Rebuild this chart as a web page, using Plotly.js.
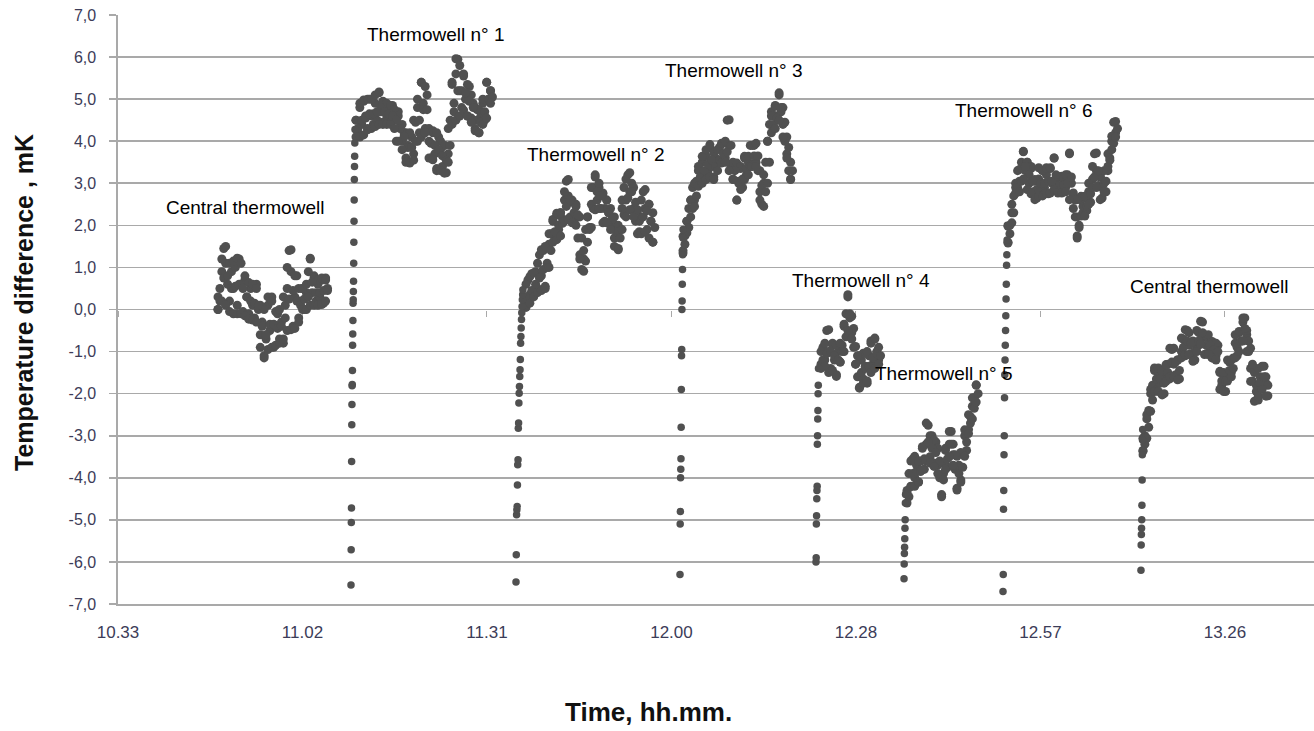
<!DOCTYPE html>
<html>
<head>
<meta charset="utf-8">
<script src="https://cdn.plot.ly/plotly-3.0.1.min.js"></script>
<style>html,body{margin:0;padding:0;background:#fff;}#chart{width:1314px;height:731px;}</style>
</head>
<body>
<div id="chart"></div>
<script>
// ---- axis ticks ----
const xTickMinutes = [0, 28.8, 57.6, 86.4, 115.2, 144, 172.8]; // minutes after 10:33
const xTickLabels = ['10.33', '11.02', '11.31', '12.00', '12.28', '12.57', '13.26'];
const yTickValues = [-7, -6, -5, -4, -3, -2, -1, 0, 1, 2, 3, 4, 5, 6, 7];
const yTickLabels = ['-7,0', '-6,0', '-5,0', '-4,0', '-3,0', '-2,0', '-1,0', '0,0', '1,0', '2,0', '3,0', '4,0', '5,0', '6,0', '7,0'];

// ---- sampling (minutes after 10:33) ----
const cloudStep = 0.3;   // readings along each plateau
const edgeStep = 0.6;    // readings of upper / middle / lower part of each plateau
const midOffset = 0.3;

// ---- Central thermowell (first) ----
const central1Start = 15.61;
const central1Values = [0.0, 0.5, 0.9, 1.45, 1.1, 0.6, 0.2, 0.9, 0.5, 1.0, 0.1, 1.2, 0.6, -0.05, 0.7, 0.3, -0.1, 0.5, 0.1, -0.2,
  0.6, 0.0, -0.6, -0.3, -1.1, -0.7, 0.1, -0.5, 0.3, -0.9, -0.4, -0.1, -0.7, -0.3, -0.8, 0.1, 0.5, 1.4, 0.9, -0.4,
  0.3, 0.8, -0.2, 0.2, 0.5, 0.0, 0.4, 0.9, 1.2, 0.4, 0.8, 0.2, 0.6, 0.3, 0.7, 0.15, 0.75, 0.5];
const central1Upper = [0.3, 1.2, 1.5, 1.1, 1.15, 1.22, 1.1, 0.8, 0.64, 0.6, 0.5, 0.1, 0.0, 0.3, 0.2, -0.05, 0.0, 0.3, 1.0, 1.42,
  0.8, 0.5, 0.5, 0.6, 1.22, 0.75, 0.7, 0.75, 0.7];
const central1Middle = [0.2, 0.75, 0.8, 0.5, 0.55, 0.6, 0.5, 0.3, 0.2, 0.15, 0.1, -0.4, -0.6, -0.35, -0.35, -0.45, -0.4, -0.2, 0.25, 0.45,
  0.2, 0.1, 0.25, 0.3, 0.65, 0.4, 0.4, 0.45, 0.45];
const central1Lower = [0.0, 0.2, 0.1, -0.05, -0.1, -0.1, -0.1, -0.15, -0.23, -0.25, -0.3, -0.9, -1.15, -0.95, -0.9, -0.85, -0.8, -0.7, -0.5, -0.48,
  -0.45, -0.3, 0.0, 0.0, 0.1, 0.1, 0.1, 0.12, 0.2];

// ---- Thermowell n° 1 ----
const tw1DropStart = 36.37, tw1DropStep = 0.025;
const tw1DropValues = [-6.55, -5.71, -5.06, -4.72, -3.61, -2.74, -2.26, -1.81, -1.78, -1.45, -0.85, -0.58, -0.26, 0.15, 0.23, 0.43, 0.67, 1.1, 1.6, 2.1, 2.6, 3.09, 3.4, 3.64, 3.96, 4.28];
const tw1Start = 37.15;
const tw1Values = [4.5, 4.2, 4.8, 4.4, 4.95, 4.6, 4.3, 5.0, 4.6, 4.4, 4.9, 4.5, 5.15, 4.7, 4.45, 4.9, 4.6, 4.8, 4.45, 4.85,
  4.6, 4.0, 4.7, 4.35, 4.0, 4.2, 3.6, 3.9, 3.5, 4.1, 3.7, 4.45, 4.8, 4.2, 5.4, 4.9, 4.3, 5.1, 4.0, 3.6,
  4.2, 3.7, 3.3, 4.1, 3.8, 3.4, 3.9, 3.25, 3.7, 4.5, 5.35, 4.7, 5.6, 5.95, 5.2, 4.8, 5.55, 5.0, 4.6, 5.3,
  4.55, 4.9, 4.3, 4.75, 4.2, 4.6, 4.9, 4.5, 5.4, 5.0, 5.2];
const tw1Upper = [4.5, 4.9, 4.98, 5.0, 5.0, 5.1, 5.17, 4.95, 4.9, 4.85, 4.75, 4.6, 4.4, 4.2, 4.2, 4.5, 5.0, 5.4, 5.3, 4.3,
  4.25, 4.2, 4.0, 3.9, 4.3, 5.4, 5.96, 5.8, 5.6, 5.35, 5.1, 4.8, 4.75, 5.0, 5.4, 5.2];
const tw1Middle = [4.3, 4.5, 4.55, 4.65, 4.65, 4.7, 4.8, 4.7, 4.65, 4.6, 4.5, 4.3, 4.1, 3.85, 3.85, 4.0, 4.5, 4.75, 4.75, 3.95,
  3.9, 3.8, 3.65, 3.55, 3.9, 4.9, 5.2, 5.2, 5.15, 4.95, 4.8, 4.5, 4.45, 4.7, 5.0, 5.05];
const tw1Lower = [4.1, 4.1, 4.15, 4.27, 4.3, 4.35, 4.4, 4.4, 4.4, 4.4, 4.3, 4.0, 3.8, 3.5, 3.48, 3.55, 4.0, 4.1, 4.2, 3.6,
  3.56, 3.35, 3.3, 3.24, 3.5, 4.4, 4.5, 4.6, 4.74, 4.6, 4.45, 4.25, 4.2, 4.4, 4.55, 4.9];

// ---- Thermowell n° 2 ----
const tw2DropStart = 62.13, tw2DropStep = 0.045;
const tw2DropValues = [-6.48, -5.83, -4.88, -4.76, -4.68, -4.17, -3.69, -3.57, -2.82, -2.70, -2.22, -1.99, -1.83, -1.59, -1.43, -1.19, -0.80, -0.64, -0.44, -0.24, -0.08, 0.07, 0.23, 0.35, 0.47];
const tw2Start = 63.69;
const tw2Values = [0.2, 0.7, 0.35, 0.85, 0.4, 0.9, 0.5, 1.3, 0.8, 1.4, 0.55, 1.1, 1.55, 1.8, 2.1, 1.7, 2.25, 1.9, 2.3, 2.15,
  2.6, 3.05, 2.7, 2.2, 2.55, 2.1, 2.45, 1.7, 1.3, 0.95, 1.2, 1.9, 2.2, 1.95, 2.5, 2.9, 3.15, 2.6, 2.9, 2.4,
  2.75, 2.1, 2.6, 2.3, 2.0, 2.2, 1.7, 2.0, 1.45, 1.9, 2.4, 2.9, 2.6, 3.2, 2.8, 3.0, 2.4, 2.1, 2.35, 1.85,
  2.2, 2.8, 2.4, 1.9, 2.5, 2.1, 1.6];
const tw2Upper = [0.6, 0.78, 0.87, 1.1, 1.42, 1.5, 1.8, 2.14, 2.29, 2.3, 2.8, 3.09, 2.6, 2.5, 2.2, 1.4, 2.2, 2.9, 3.2, 3.0,
  2.77, 2.6, 2.4, 2.2, 2.0, 2.6, 3.1, 3.25, 2.9, 2.37, 2.6, 2.85, 2.5, 2.3];
const tw2Middle = [0.3, 0.45, 0.6, 0.75, 0.95, 1.0, 1.4, 1.85, 2.0, 2.05, 2.45, 2.6, 2.3, 2.25, 1.7, 1.15, 1.9, 2.4, 2.8, 2.7,
  2.4, 2.3, 2.15, 1.85, 1.7, 2.25, 2.65, 2.8, 2.55, 2.1, 2.2, 2.35, 2.1, 1.95];
const tw2Lower = [0.05, 0.15, 0.3, 0.4, 0.45, 0.5, 1.0, 1.6, 1.66, 1.75, 2.1, 2.15, 2.06, 2.0, 1.2, 0.91, 1.6, 1.95, 2.37, 2.4,
  2.06, 2.06, 1.9, 1.5, 1.42, 1.9, 2.2, 2.37, 2.2, 1.8, 1.8, 1.85, 1.7, 1.6];

// ---- Thermowell n° 3 ----
const tw3DropStart = 87.73, tw3DropStep = 0.03;
const tw3DropValues = [-6.3, -5.1, -4.8, -4.0, -3.8, -3.55, -2.8, -1.9, -1.1, -0.95, 0.0, 0.2, 0.6, 0.95, 1.3, 1.7, 1.9];
const tw3Start = 88.20;
const tw3Values = [1.4, 1.75, 2.1, 2.4, 2.6, 2.9, 2.6, 3.05, 3.3, 3.0, 3.5, 3.2, 3.65, 3.3, 3.85, 3.4, 3.15, 3.6, 3.5, 3.85,
  3.55, 3.95, 3.6, 4.5, 3.9, 3.4, 3.1, 3.45, 2.6, 3.0, 3.35, 2.9, 3.6, 3.2, 3.5, 3.9, 3.45, 3.9, 3.5, 3.3,
  2.8, 2.5, 3.0, 3.5, 4.0, 4.4, 4.7, 4.3, 4.85, 4.6, 5.1, 4.7, 4.4, 4.0, 3.7, 3.3, 3.1];
const tw3Upper = [1.74, 2.1, 2.6, 3.0, 3.4, 3.64, 3.8, 3.92, 3.72, 3.8, 3.95, 4.0, 4.51, 3.5, 3.48, 3.4, 3.64, 3.64, 3.9, 3.95,
  3.3, 3.2, 4.0, 4.6, 4.83, 5.15, 4.8, 4.1, 3.5];
const tw3Middle = [1.55, 1.95, 2.4, 2.7, 3.15, 3.3, 3.45, 3.55, 3.4, 3.55, 3.7, 3.75, 3.9, 3.3, 3.05, 3.1, 3.35, 3.4, 3.65, 3.65,
  2.95, 2.8, 3.5, 4.4, 4.55, 4.8, 4.45, 3.85, 3.3];
const tw3Lower = [1.34, 1.82, 2.2, 2.45, 2.93, 3.0, 3.09, 3.15, 3.09, 3.3, 3.48, 3.5, 3.3, 3.09, 2.6, 2.85, 3.09, 3.2, 3.4, 3.4,
  2.6, 2.45, 3.0, 4.2, 4.3, 4.5, 4.1, 3.6, 3.09];

// ---- Thermowell n° 4 ----
const tw4DropStart = 108.96, tw4DropStep = 0.03;
const tw4DropValues = [-6.0, -5.9, -5.1, -4.9, -4.5, -4.3, -4.2, -3.2, -3.0, -2.6, -2.4, -2.0, -1.8, -1.4];
const tw4Start = 109.74;
const tw4Values = [-1.3, -0.9, -1.2, -0.5, -1.0, -1.4, -0.85, -1.2, -1.55, -1.0, -1.25, -0.85, -0.4, -0.1, 0.3, -0.2, -0.55, -0.9, -1.3, -1.6,
  -1.85, -1.2, -1.65, -1.35, -1.75, -1.1, -0.75, -1.3, -0.7, -1.0, -1.2];
const tw4Upper = [-1.0, -0.8, -0.48, -0.8, -0.85, -0.8, -0.35, 0.35, -0.16, -0.88, -1.1, -1.04, -1.0, -0.8, -0.68, -0.9];
const tw4Middle = [-1.2, -1.05, -1.0, -1.1, -1.2, -1.0, -0.65, -0.1, -0.45, -1.1, -1.5, -1.4, -1.35, -1.15, -1.05, -1.1];
const tw4Lower = [-1.4, -1.35, -1.5, -1.45, -1.59, -1.25, -1.0, -0.5, -0.7, -1.3, -1.87, -1.75, -1.7, -1.5, -1.4, -1.3];

// ---- Thermowell n° 5 ----
const tw5DropStart = 122.70, tw5DropStep = 0.03;
const tw5DropValues = [-6.4, -6.05, -5.8, -5.65, -5.45, -5.2, -5.0, -4.6, -4.4];
const tw5Start = 123.17;
const tw5Values = [-4.35, -3.9, -4.2, -3.55, -4.0, -3.7, -4.1, -3.6, -3.3, -3.8, -3.2, -2.75, -3.5, -3.0, -3.65, -3.15, -3.7, -4.0, -4.4, -3.9,
  -3.35, -3.75, -3.2, -2.9, -3.45, -3.8, -4.25, -3.7, -4.05, -3.45, -3.0, -3.35, -2.85, -2.55, -2.3, -2.1, -1.8];
const tw5Upper = [-4.3, -3.6, -3.49, -3.6, -3.26, -2.7, -3.0, -3.1, -3.3, -3.65, -3.3, -2.9, -3.2, -3.49, -3.4, -2.86, -2.5, -2.1, -1.79];
const tw5Middle = [-4.45, -3.9, -3.85, -3.85, -3.55, -3.15, -3.3, -3.4, -3.6, -4.05, -3.55, -3.2, -3.45, -3.9, -3.75, -3.15, -2.7, -2.35, -2.0];
const tw5Lower = [-4.6, -4.21, -4.2, -4.1, -3.81, -3.6, -3.65, -3.73, -3.9, -4.45, -3.8, -3.5, -3.7, -4.29, -4.1, -3.49, -2.95, -2.6, -2.2];

// ---- Thermowell n° 6 ----
const tw6DropStart = 138.15, tw6DropStep = 0.04;
const tw6DropValues = [-6.7, -6.3, -4.75, -4.3, -3.45, -3.0, -2.1, -1.55, -1.2, -0.85, -0.5, -0.15, 0.25, 0.6, 1.05, 1.3, 1.65, 2.0];
const tw6Start = 138.93;
const tw6Values = [1.6, 2.0, 2.3, 2.7, 2.9, 3.3, 3.05, 3.5, 3.75, 3.3, 3.5, 3.0, 3.35, 2.8, 3.05, 2.65, 3.1, 2.8, 3.3, 2.9,
  3.2, 2.75, 3.35, 3.0, 3.6, 3.1, 2.85, 3.15, 2.8, 3.1, 2.9, 3.2, 3.7, 3.0, 2.7, 2.2, 1.75, 2.0, 2.6, 2.3,
  2.65, 2.35, 2.8, 2.55, 3.1, 3.7, 3.3, 2.95, 3.15, 2.65, 3.0, 2.8, 3.3, 3.6, 4.0, 4.45, 4.2];
const tw6Upper = [1.98, 2.5, 3.0, 3.33, 3.76, 3.5, 3.4, 3.09, 3.37, 3.3, 3.37, 3.37, 3.6, 3.17, 3.17, 3.2, 3.72, 2.77, 2.2, 2.69,
  2.69, 3.0, 3.4, 3.72, 3.17, 3.3, 3.7, 4.12, 4.47];
const tw6Middle = [1.8, 2.3, 2.9, 3.05, 3.4, 3.2, 3.05, 2.85, 3.0, 3.0, 3.05, 3.05, 3.2, 2.95, 2.95, 3.0, 3.15, 2.6, 1.95, 2.45,
  2.45, 2.75, 3.15, 3.3, 2.9, 3.05, 3.55, 3.95, 4.3];
const tw6Lower = [1.58, 2.06, 2.77, 2.8, 3.1, 2.85, 2.75, 2.61, 2.69, 2.7, 2.77, 2.77, 2.85, 2.77, 2.77, 2.8, 2.61, 2.4, 1.7, 2.22,
  2.22, 2.5, 2.9, 2.9, 2.61, 2.8, 3.4, 3.8, 4.1];

// ---- Central thermowell (second) ----
const central2DropStart = 159.69, central2DropStep = 0.03;
const central2DropValues = [-6.2, -5.6, -5.35, -5.2, -5.0, -4.65, -4.05, -3.45, -3.1, -2.85];
const central2Start = 160.0;
const central2Values = [-3.35, -3.0, -2.6, -2.4, -2.0, -1.8, -1.45, -1.9, -1.5, -1.75, -1.45, -2.0, -1.6, -1.3, -1.65, -0.95, -1.3, -1.55, -1.2, -1.65,
  -1.0, -0.7, -1.1, -0.5, -0.85, -1.05, -0.75, -1.2, -0.9, -0.55, -0.8, -0.3, -0.65, -1.05, -0.7, -0.95, -1.15, -0.8, -1.1, -0.85,
  -1.5, -1.8, -1.55, -1.95, -1.6, -1.25, -1.5, -1.15, -0.8, -1.1, -0.55, -0.75, -0.3, -0.2, -0.6, -1.0, -1.4, -1.7, -1.5, -1.95,
  -2.15, -1.6, -1.85, -1.35, -1.75, -2.05];
const central2Upper = [-3.06, -2.5, -1.9, -1.39, -1.39, -1.47, -1.31, -0.92, -0.92, -1.2, -0.68, -0.48, -0.55, -0.76, -0.5, -0.28, -0.6, -0.6, -0.76, -0.8,
  -1.47, -1.5, -1.2, -1.2, -0.6, -0.52, -0.2, -0.5, -0.92, -1.47, -1.4, -1.35, -1.6];
const central2Middle = [-3.2, -2.8, -2.15, -1.65, -1.65, -1.75, -1.5, -1.25, -1.25, -1.45, -0.9, -0.75, -0.8, -1.0, -0.75, -0.55, -0.85, -0.85, -0.95, -1.0,
  -1.7, -1.7, -1.45, -1.4, -0.9, -0.75, -0.45, -0.75, -1.3, -1.8, -1.75, -1.6, -1.8];
const central2Lower = [-3.37, -3.06, -2.42, -1.95, -1.95, -2.03, -1.71, -1.6, -1.6, -1.67, -1.15, -1.07, -1.07, -1.23, -1.0, -0.83, -1.07, -1.07, -1.15, -1.2,
  -1.9, -1.95, -1.7, -1.6, -1.15, -1.0, -0.75, -1.0, -1.71, -2.18, -2.06, -1.9, -2.06];

// ---- annotation labels ----
const labelTexts = ['Central thermowell', 'Thermowell n° 1', 'Thermowell n° 2', 'Thermowell n° 3', 'Thermowell n° 4', 'Thermowell n° 5', 'Thermowell n° 6', 'Central thermowell'];
const labelTimes = [7.18, 38.56, 63.53, 85.08, 104.9, 117.9, 130.3, 157.7];
const labelValues = [2.42, 6.54, 3.68, 5.68, 0.69, -1.51, 4.73, 0.54];

// ---- build the series ----
const plateaus = [
  [central1Start, central1Values, central1Upper, central1Middle, central1Lower],
  [tw1Start, tw1Values, tw1Upper, tw1Middle, tw1Lower],
  [tw2Start, tw2Values, tw2Upper, tw2Middle, tw2Lower],
  [tw3Start, tw3Values, tw3Upper, tw3Middle, tw3Lower],
  [tw4Start, tw4Values, tw4Upper, tw4Middle, tw4Lower],
  [tw5Start, tw5Values, tw5Upper, tw5Middle, tw5Lower],
  [tw6Start, tw6Values, tw6Upper, tw6Middle, tw6Lower],
  [central2Start, central2Values, central2Upper, central2Middle, central2Lower]
];
const drops = [
  [tw1DropStart, tw1DropStep, tw1DropValues], [tw2DropStart, tw2DropStep, tw2DropValues],
  [tw3DropStart, tw3DropStep, tw3DropValues], [tw4DropStart, tw4DropStep, tw4DropValues],
  [tw5DropStart, tw5DropStep, tw5DropValues], [tw6DropStart, tw6DropStep, tw6DropValues],
  [central2DropStart, central2DropStep, central2DropValues]
];
const dropX = [], dropY = [], plateauX = [], plateauY = [];
drops.forEach(([t0, dt, vals]) => {
  vals.forEach((v, i) => { dropX.push(t0 + i * dt); dropY.push(v); });
});
plateaus.forEach(([t0, vals, up, mid, lo]) => {
  [[t0, cloudStep, vals], [t0, edgeStep, up], [t0 + midOffset, edgeStep, mid], [t0, edgeStep, lo]].forEach(([s, dt, arr]) => {
    arr.forEach((v, i) => { plateauX.push(s + i * dt); plateauY.push(v); });
  });
});

const gridCol = '#a9a9a9';
const tickFontCol = '#3c3c58';
const dotCol = '#505050';

const dropTrace = {
  type: 'scatter', mode: 'markers', x: dropX, y: dropY,
  marker: { color: dotCol, size: 7.5, line: { width: 0 } },
  showlegend: false, hoverinfo: 'x+y'
};
const plateauTrace = {
  type: 'scatter', mode: 'markers', x: plateauX, y: plateauY,
  marker: { color: dotCol, size: 9, line: { width: 0 } },
  showlegend: false, hoverinfo: 'x+y'
};
const tickTrace = { type: 'scatter', mode: 'markers', x: [], y: [], xaxis: 'x2', yaxis: 'y', showlegend: false };

const annotations = labelTexts.map((txt, i) => ({
  x: labelTimes[i], y: labelValues[i], xref: 'x', yref: 'y', text: txt,
  showarrow: false, xanchor: 'left', yanchor: 'middle',
  font: { family: 'Liberation Sans, Arial, sans-serif', size: 19, color: '#000' }
}));
annotations.push({
  xref: 'paper', yref: 'paper', x: 0.4436, y: -0.1834, text: '<b>Time, hh.mm.</b>', showarrow: false,
  xanchor: 'center', yanchor: 'middle',
  font: { family: 'Liberation Sans, Arial, sans-serif', size: 26, color: '#111' }
});
annotations.push({
  xref: 'paper', yref: 'paper', x: -0.0786, y: 0.5127, text: '<b>Temperature difference , mK</b>', showarrow: false,
  textangle: -90, xanchor: 'center', yanchor: 'middle',
  font: { family: 'Liberation Sans, Arial, sans-serif', size: 25, color: '#111' }
});

const layout = {
  width: 1314, height: 731,
  margin: { l: 118, r: 0, t: 15, b: 127, pad: 0 },
  paper_bgcolor: '#fff', plot_bgcolor: '#fff',
  xaxis: {
    range: [0, 186.7], showgrid: false, zeroline: false,
    showline: true, linecolor: gridCol, linewidth: 1.6,
    tickmode: 'array', tickvals: xTickMinutes, ticktext: xTickLabels,
    ticks: '', ticklabelstandoff: 12,
    tickfont: { family: 'Liberation Sans, Arial, sans-serif', size: 17, color: tickFontCol }
  },
  xaxis2: {
    overlaying: 'x', anchor: 'free', position: 0.5, side: 'bottom', matches: 'x',
    range: [0, 186.7], showgrid: false, zeroline: false, showline: false,
    tickmode: 'array', tickvals: xTickMinutes, ticks: 'outside', ticklen: 6, tickwidth: 1, tickcolor: gridCol,
    showticklabels: false, layer: 'below traces'
  },
  yaxis: {
    range: [-7, 7], tickmode: 'array', tickvals: yTickValues, ticktext: yTickLabels,
    showgrid: true, gridcolor: gridCol, gridwidth: 1.6, zeroline: false,
    showline: true, linecolor: gridCol, linewidth: 1.6,
    ticks: 'outside', ticklen: 7, tickwidth: 1.6, tickcolor: gridCol, ticklabelstandoff: 10,
    tickfont: { family: 'Liberation Sans, Arial, sans-serif', size: 16, color: tickFontCol },
    layer: 'below traces'
  },
  annotations: annotations
};

Plotly.newPlot('chart', [plateauTrace, dropTrace, tickTrace], layout, { staticPlot: true, displayModeBar: false });
</script>
</body>
</html>
